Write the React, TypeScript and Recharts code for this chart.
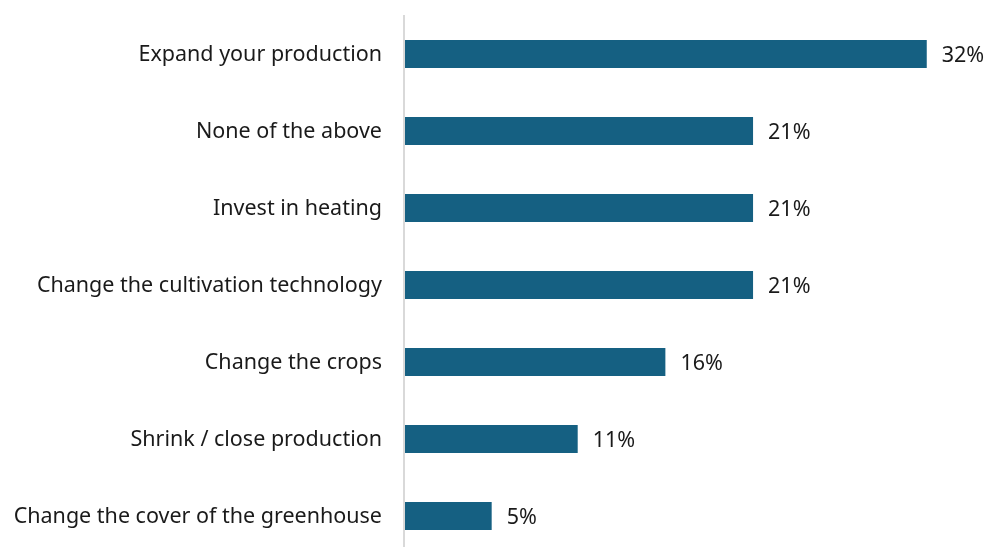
import React from "react";
import { Bar, BarChart, LabelList, XAxis, YAxis } from "recharts";

// survey answers, share of respondents (%)
const categories = [
  "Expand your production",
  "None of the above",
  "Invest in heating",
  "Change the cultivation technology",
  "Change the crops",
  "Shrink / close production",
  "Change the cover of the greenhouse",
];
const shares = [31.6, 21.1, 21.1, 21.1, 15.8, 10.5, 5.3];

const data = categories.map((name, i) => ({ name, share: shares[i] }));

const FONT = "'Noto Sans', sans-serif";

export default function App() {
  return (
    <div style={{ position: "fixed", left: 0, top: 0, width: 988, height: 547, overflow: "hidden" }}>
      <BarChart
        layout="vertical"
        width={988}
        height={554}
        data={data}
        margin={{ top: 15, right: 5, bottom: 0, left: 0 }}
        barSize={28}
      >
        <XAxis type="number" domain={[0, 35]} hide />
        <YAxis
          type="category"
          dataKey="name"
          width={404}
          tickSize={0}
          tickMargin={22}
          tickLine={false}
          axisLine={{ stroke: "#d9d9d9", strokeWidth: 2 }}
          tick={{ fill: "#1a1a1a", fontSize: 21.5, fontFamily: FONT }}
          interval={0}
        />
        <Bar dataKey="share" fill="#156082" isAnimationActive={false}>
          <LabelList
            dataKey="share"
            position="right"
            offset={15}
            formatter={(v: number) => `${Math.round(v)}%`}
            style={{ fill: "#1a1a1a", fontSize: 21.5, fontFamily: FONT }}
          />
        </Bar>
      </BarChart>
    </div>
  );
}
